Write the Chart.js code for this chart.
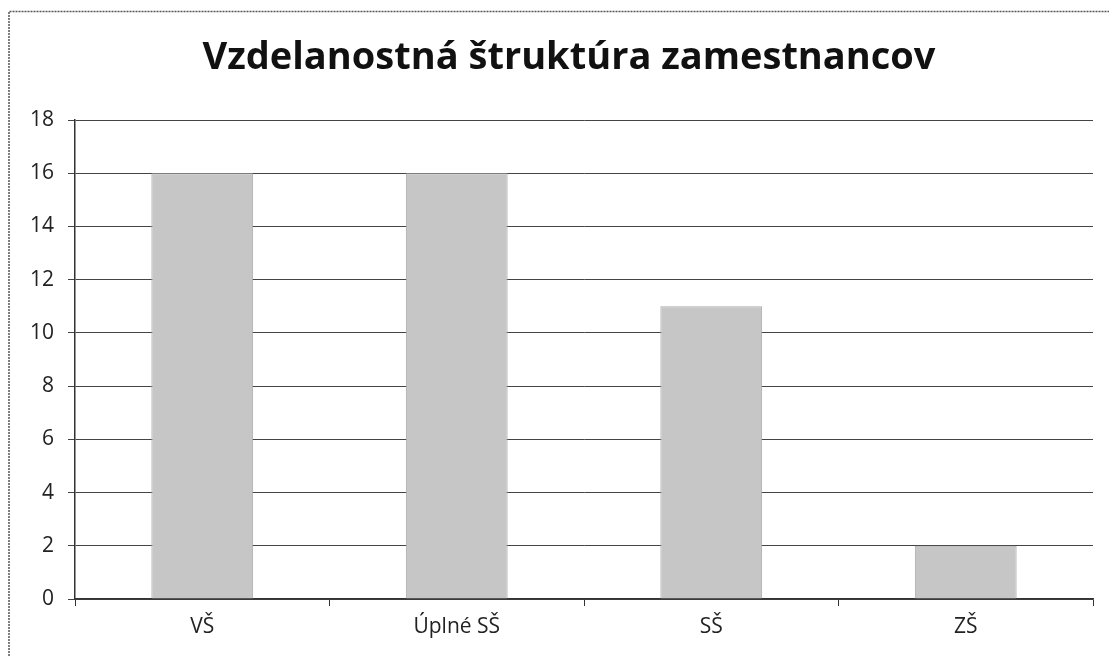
<!DOCTYPE html>
<html><head><meta charset="utf-8">
<script src="https://cdn.jsdelivr.net/npm/chart.js@4/dist/chart.umd.min.js"></script>
<style>html,body{margin:0;padding:0;background:#fff}#wrap{width:1109px;height:656px}</style>
</head><body><div id="wrap"><canvas id="c" width="1109" height="656"></canvas></div>
<script>
const categories = ["VŠ", "Úplné SŠ", "SŠ", "ZŠ"];
const values = [16, 16, 11, 2];
const chartTitle = "Vzdelanostná štruktúra zamestnancov";

const decor = {
  id: 'decor',
  beforeDraw(chart) {
    const ctx = chart.ctx;
    ctx.save();
    ctx.fillStyle = '#fff';
    ctx.fillRect(0, 0, chart.width, chart.height);
    ctx.strokeStyle = '#555';
    ctx.lineWidth = 1.5;
    ctx.setLineDash([2, 1]);
    ctx.beginPath();
    ctx.moveTo(9, 656); ctx.lineTo(9, 11.5); ctx.lineTo(1109, 11.5);
    ctx.stroke();
    ctx.restore();
  },
  afterDraw(chart) {
    const ctx = chart.ctx;
    ctx.save();
    ctx.fillStyle = '#111';
    ctx.font = 'bold 38px "Open Sans", "Liberation Sans", sans-serif';
    ctx.textAlign = 'center';
    ctx.textBaseline = 'middle';
    ctx.fillText(chartTitle, 569, 58);
    ctx.restore();
  }
};

new Chart(document.getElementById('c'), {
  type: 'bar',
  data: { labels: categories, datasets: [{ data: values, backgroundColor: '#c6c6c6', borderColor: '#aaa', borderWidth: 1, categoryPercentage: 1, barPercentage: 0.4 }] },
  options: {
    responsive: false, animation: false,
    layout: { padding: { left: 20, right: 16, top: 120, bottom: 10 } },
    plugins: { legend: { display: false }, title: { display: false }, tooltip: { enabled: false } },
    scales: {
      x: {
        afterFit(s) { s.height = 47; },
        grid: { display: true, drawOnChartArea: false, drawTicks: true, tickLength: 7, color: '#333', offset: true },
        border: { display: true, color: '#333', width: 1.5 },
        ticks: { color: '#222', font: { size: 21, family: '"Open Sans", "Liberation Sans", sans-serif' }, padding: 8 }
      },
      y: {
        min: 0, max: 18,
        afterFit(s) { s.width = 55; },
        ticks: { stepSize: 2, color: '#222', font: { size: 21, family: '"Open Sans", "Liberation Sans", sans-serif' }, padding: 14 },
        grid: { color: '#444', lineWidth: 1, tickLength: 7 },
        border: { display: true, color: '#333', width: 1.5 }
      }
    }
  },
  plugins: [decor]
});
</script></body></html>
